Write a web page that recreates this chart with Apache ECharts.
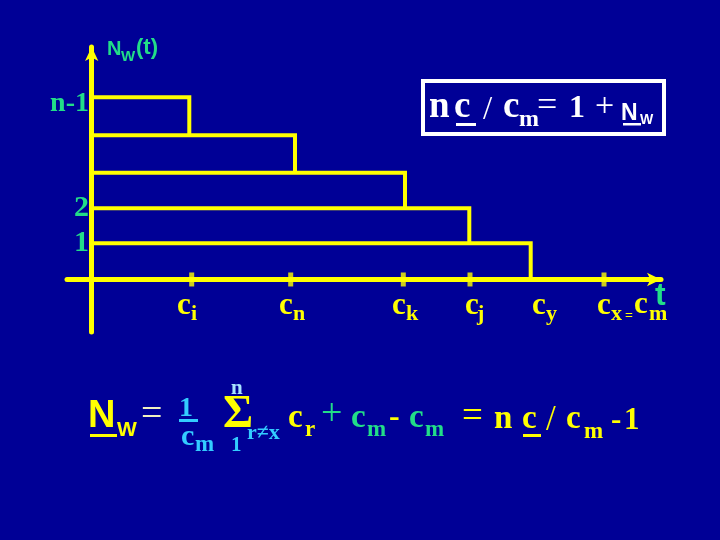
<!DOCTYPE html>
<html><head><meta charset="utf-8">
<script src="https://cdn.jsdelivr.net/npm/echarts@6/dist/echarts.min.js"></script>
<style>html,body{margin:0;padding:0;background:#000096}#c{width:720px;height:540px}</style>
</head><body><div id="c"></div>
<script>
// ---- data ----
const stepLevels = [5.12, 4.05, 3.0, 2.0, 1.02];      // N_w levels, top to bottom (n-1 ... 1)
const stepEnds   = [9.76, 20.33, 31.33, 37.76, 43.9]; // completion times c_i, c_n, c_k, c_j, c_y
const tickTimes  = [10.0, 19.9, 31.16, 37.83, 51.23]; // tick marks c_i, c_n, c_k, c_j, c_x
const levelNames = ['n-1', '', '', '2', '1'];
const cNames     = ['i', 'n', 'k', 'j', 'y', 'x'];
const cTimes     = [10.0, 19.9, 31.16, 37.83, 43.9, 51.23];

const BG = '#000096', Y = '#ffff00', G = '#22dd88', C = '#33ccff', PALE = '#a8e4ff', CREAM = '#f0f0c0', WH = '#ffffff';
const SERIF = '"Liberation Serif","Times New Roman",serif';
const SANS = '"Liberation Sans",Arial,sans-serif';

const chart = echarts.init(document.getElementById('c'), null, {renderer: 'canvas', width: 720, height: 540});

const axisLineCommon = {show: true, onZero: true, lineStyle: {color: Y, width: 5}, symbol: ['none', 'arrow'], symbolSize: [10, 14]};

const series = stepEnds.map((e, k) => ({
  type: 'line', silent: true, symbol: 'none', z: 3,
  lineStyle: {color: Y, width: 4, join: 'miter', cap: 'butt'},
  data: [[0, stepLevels[k]], [e, stepLevels[k]], [e, k + 1 < stepLevels.length ? stepLevels[k + 1] : 0]]
}));
series.push({
  type: 'scatter', silent: true, symbol: 'rect', symbolSize: [5, 14], z: 4,
  itemStyle: {color: Y}, data: tickTimes.map(t => [t, 0])
});

chart.setOption({
  backgroundColor: BG,
  animation: false,
  grid: {left: 67, right: 59, top: 47, bottom: 208, containLabel: false},
  xAxis: {type: 'value', min: -2.47, max: 56.93, axisLine: axisLineCommon,
    axisTick: {show: false}, axisLabel: {show: false}, splitLine: {show: false}},
  yAxis: {type: 'value', min: -1.475, max: 6.53, axisLine: axisLineCommon,
    axisTick: {show: false}, axisLabel: {show: false}, splitLine: {show: false}},
  series: series
});

function txt(x, base, s, size, color, o) {
  o = o || {};
  const fam = o.sans ? SANS : SERIF;
  const k = o.sans ? 0.3465 : 0.3375;
  return {type: 'text', x: x, y: base - k * size, silent: true, z: 100,
    style: {text: s, fill: color, font: (o.w || 'bold') + ' ' + size + 'px ' + fam,
      textAlign: o.align || 'left', textVerticalAlign: 'middle'}};
}
function bar(x, y, w, h, color) {
  return {type: 'rect', silent: true, z: 100, shape: {x: x, y: y, width: w, height: h}, style: {fill: color}};
}

const g = [];
// axis names
g.push(txt(107, 56, 'N', 20, G, {sans: 1}));
g.push(txt(121, 62, 'W', 15, G, {sans: 1}));
g.push(txt(136, 56, '(t)', 22, G, {sans: 1}));
g.push(txt(655, 307, 't', 32, G, {sans: 1}));

// level labels on the y axis
levelNames.forEach((name, k) => {
  if (!name) return;
  const py = chart.convertToPixel({yAxisIndex: 0}, stepLevels[k]);
  const size = name === 'n-1' ? 28 : 30;
  const dy = name === 'n-1' ? 7 : 0;
  g.push({type: 'text', x: 89, y: py + dy, silent: true, z: 100,
    style: {text: name, fill: G, font: 'bold ' + size + 'px ' + SERIF, textAlign: 'right', textVerticalAlign: 'middle'}});
});

// time labels under the x axis
const nudge = [-13.7, -10.7, -10.3, -4, 2.3, -6];
cNames.forEach((s, k) => {
  const px = chart.convertToPixel({xAxisIndex: 0}, cTimes[k]) + nudge[k] - 1;
  g.push(txt(px, 316, 'c', 31, Y));
  g.push(txt(px + (s === 'j' ? 12 : 14), 322, s, 22, Y));
  if (s === 'x') {
    g.push(txt(px + 28, 321, '=', 14, Y));
    g.push(txt(px + 37, 315, 'c', 31, Y));
    g.push(txt(px + 52, 322, 'm', 22, Y));
  }
});

// boxed relation
g.push({type: 'rect', silent: true, z: 100, shape: {x: 423, y: 81, width: 241, height: 53}, style: {fill: 'none', stroke: WH, lineWidth: 4}});
g.push(txt(429, 120, 'n', 37, WH));
g.push(txt(454, 120, 'c', 37, WH));
g.push(bar(456, 123, 20, 3, WH));
g.push(txt(483, 121, '/', 33, WH, {w: 'normal'}));
g.push(txt(503, 120, 'c', 37, WH));
g.push(txt(519, 128, 'm', 24, WH));
g.push(txt(537, 119, '=', 36, WH, {w: 'normal'}));
g.push(txt(569, 120, '1', 32, WH));
g.push(txt(595, 119, '+', 34, WH, {w: 'normal'}));
g.push(txt(621, 122, 'N', 23, WH, {sans: 1}));
g.push(bar(623, 123, 18, 2.5, WH));
g.push(txt(640, 125, 'W', 14, WH, {sans: 1}));

// bottom formula
g.push(txt(88, 430, 'N', 38, Y, {sans: 1}));
g.push(bar(90, 434, 27, 3, Y));
g.push(txt(117, 437, 'W', 21, Y, {sans: 1}));
g.push(txt(141, 428, '=', 38, CREAM, {w: 'normal'}));
g.push(txt(179, 418, '1', 28, C));
g.push(bar(179, 419, 19, 3, C));
g.push(txt(181, 447, 'c', 30, C));
g.push(txt(195, 453, 'm', 23, C));
g.push(txt(231, 396, 'n', 21, PALE));
g.push(txt(223, 431, '\u03A3', 46, Y));
g.push(txt(231, 453, '1', 21, C));
g.push(txt(247, 441, 'r\u2260x', 22, C));
g.push(txt(288, 430, 'c', 33, Y));
g.push(txt(305, 438, 'r', 23, Y));
g.push(txt(321, 428, '+', 38, G, {w: 'normal'}));
g.push(txt(351, 430, 'c', 33, G));
g.push(txt(367, 438, 'm', 23, G));
g.push(txt(389, 429, '-', 32, Y));
g.push(txt(409, 430, 'c', 33, G));
g.push(txt(425, 438, 'm', 23, G));
g.push(txt(462, 430, '=', 37, Y, {w: 'normal'}));
g.push(txt(494, 431, 'n', 33, Y));
g.push(txt(522, 431, 'c', 33, Y));
g.push(bar(523, 434, 18, 3, Y));
g.push(txt(546, 433, '/', 35, Y, {w: 'normal'}));
g.push(txt(566, 431, 'c', 33, Y));
g.push(txt(584, 440, 'm', 23, Y));
g.push(txt(611, 431, '-', 31, Y));
g.push(txt(624, 431, '1', 31, Y));

chart.setOption({graphic: {elements: g}});
</script>
</body></html>
